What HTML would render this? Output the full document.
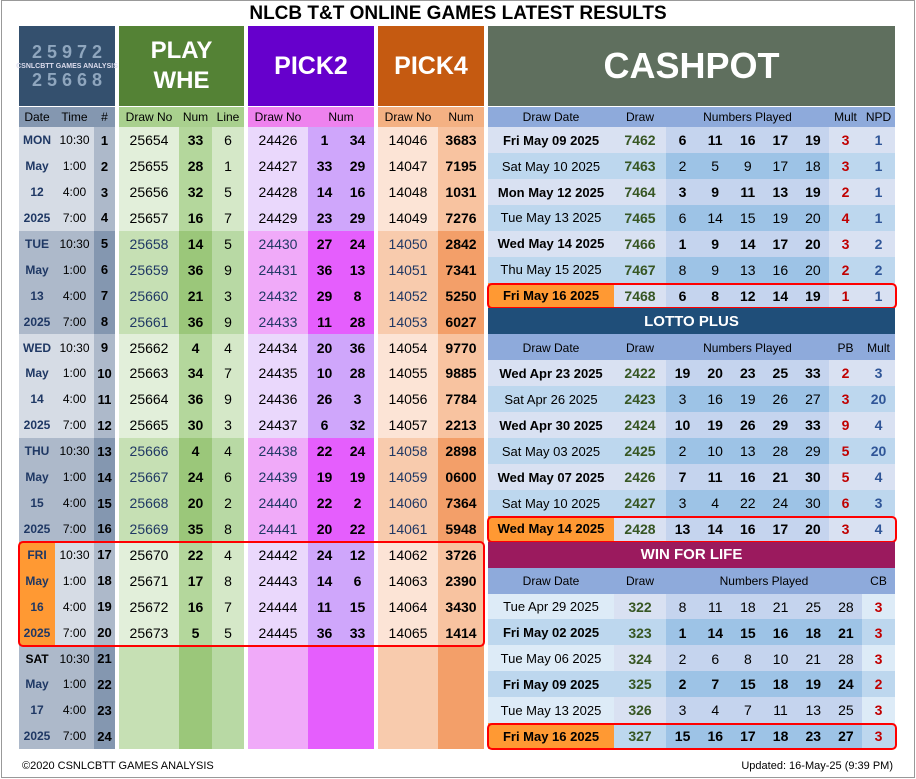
<!DOCTYPE html>
<html><head><meta charset="utf-8">
<style>
body{margin:0;background:#fff;}
#root{position:relative;width:916px;height:779px;overflow:hidden;font-family:"Liberation Sans",sans-serif;background:#fff;}
.c{position:absolute;display:flex;align-items:center;justify-content:center;box-sizing:border-box;white-space:nowrap;}
.hl{position:absolute;border:2px solid #f00;border-radius:5px;box-sizing:border-box;}
</style></head>
<body>
<div id="root">
<div style="position:absolute;left:1px;top:0;width:914px;height:778px;border:1px solid #999;box-sizing:border-box"></div>
<div class="c" style="left:0;top:2px;width:916px;height:24px;font-size:19px;font-weight:bold">NLCB T&amp;T ONLINE GAMES LATEST RESULTS</div>
<div class="c" style="left:19px;top:26px;width:96px;height:80px;background:#34506e;color:#dde;font-size:7px;font-weight:bold;flex-direction:column"><span style="font-size:18px;color:#8fa6be">2 5 9 7 2</span><span>CSNLCBTT GAMES ANALYSIS</span><span style="font-size:18px;color:#8fa6be">2 5 6 6 8</span></div>
<div class="c" style="left:119px;top:26px;width:125px;height:80px;background:#548235;color:#fff;font-size:24px;font-weight:bold;line-height:30px;text-align:center;flex-direction:column"><span>PLAY</span><span>WHE</span></div>
<div class="c" style="left:248px;top:26px;width:126px;height:80px;background:#6600cc;color:#fff;font-size:25px;font-weight:bold">PICK2</div>
<div class="c" style="left:378px;top:26px;width:106px;height:80px;background:#c55a11;color:#fff;font-size:25px;font-weight:bold">PICK4</div>
<div class="c" style="left:488px;top:26px;width:407px;height:80px;background:#5f6f5e;color:#fff;font-size:36px;font-weight:bold">CASHPOT</div>
<div class="c" style="left:22px;top:757px;height:18px;font-size:11px;justify-content:flex-start">©2020 CSNLCBTT GAMES ANALYSIS</div>
<div class="c" style="left:700px;top:757px;width:193px;height:18px;font-size:11px;justify-content:flex-end">Updated: 16-May-25 (9:39 PM)</div>
</div>
<script>
const dateLabels=[["MON","May","12","2025"],["TUE","May","13","2025"],["WED","May","14","2025"],["THU","May","15","2025"],["FRI","May","16","2025"],["SAT","May","17","2025"]];
const times=["10:30","1:00","4:00","7:00"];
const pwDraw=[25654,25655,25656,25657,25658,25659,25660,25661,25662,25663,25664,25665,25666,25667,25668,25669,25670,25671,25672,25673];
const pwNum=[33,28,32,16,14,36,21,36,4,34,36,30,4,24,20,35,22,17,16,5];
const pwLine=[6,1,5,7,5,9,3,9,4,7,9,3,4,6,2,8,4,8,7,5];
const p2Draw=[24426,24427,24428,24429,24430,24431,24432,24433,24434,24435,24436,24437,24438,24439,24440,24441,24442,24443,24444,24445];
const p2A=[1,33,14,23,27,36,29,11,20,10,26,6,22,19,22,20,24,14,11,36];
const p2B=[34,29,16,29,24,13,8,28,36,28,3,32,24,19,2,22,12,6,15,33];
const p4Draw=[14046,14047,14048,14049,14050,14051,14052,14053,14054,14055,14056,14057,14058,14059,14060,14061,14062,14063,14064,14065];
const p4Num=["3683","7195","1031","7276","2842","7341","5250","6027","9770","9885","7784","2213","2898","0600","7364","5948","3726","2390","3430","1414"];
const cpDates=["Fri May 09 2025","Sat May 10 2025","Mon May 12 2025","Tue May 13 2025","Wed May 14 2025","Thu May 15 2025","Fri May 16 2025"];
const cpDraw=[7462,7463,7464,7465,7466,7467,7468];
const cpNums=[[6,11,16,17,19],[2,5,9,17,18],[3,9,11,13,19],[6,14,15,19,20],[1,9,14,17,20],[8,9,13,16,20],[6,8,12,14,19]];
const cpMult=[3,3,2,4,3,2,1];
const cpNpd=[1,1,1,1,2,2,1];
const lpDates=["Wed Apr 23 2025","Sat Apr 26 2025","Wed Apr 30 2025","Sat May 03 2025","Wed May 07 2025","Sat May 10 2025","Wed May 14 2025"];
const lpDraw=[2422,2423,2424,2425,2426,2427,2428];
const lpNums=[[19,20,23,25,33],[3,16,19,26,27],[10,19,26,29,33],[2,10,13,28,29],[7,11,16,21,30],[3,4,22,24,30],[13,14,16,17,20]];
const lpPB=[2,3,9,5,5,6,3];
const lpMult=[3,20,4,20,4,3,4];
const wfDates=["Tue Apr 29 2025","Fri May 02 2025","Tue May 06 2025","Fri May 09 2025","Tue May 13 2025","Fri May 16 2025"];
const wfDraw=[322,323,324,325,326,327];
const wfNums=[[8,11,18,21,25,28],[1,14,15,16,18,21],[2,6,8,10,21,28],[2,7,15,18,19,24],[3,4,7,11,13,25],[15,16,17,18,23,27]];
const wfCB=[3,3,3,2,3,3];

const root=document.getElementById('root');
const RH=622/24, Y0=127;
function cell(x,y,w,h,bg,txt,css,name){
  const d=document.createElement('div');
  d.className='c';
  d.style.cssText=`left:${x}px;top:${y}px;width:${w}px;height:${h}px;background:${bg};`+(css||'');
  if(txt!==undefined&&txt!==null)d.textContent=txt;
  
  
  root.appendChild(d);return d;
}
const ry=i=>Y0+i*RH;
// left headers
cell(19,107,96,20,'#8497b0','','','left-header-bg');
cell(19,107,36,20,'transparent','Date','font-size:12px','date-header');
cell(55,107,39,20,'transparent','Time','font-size:12px','time-header');
cell(94,107,21,20,'transparent','#','font-size:12px','index-header');
cell(119,107,125,20,'#a9d08e','','','pw-header-bg');
cell(119,107,60,20,'transparent','Draw No','font-size:12px','pw-draw-header');
cell(179,107,33,20,'transparent','Num','font-size:12px','pw-num-header');
cell(212,107,32,20,'transparent','Line','font-size:12px','pw-line-header');
cell(248,107,126,20,'#ee82ee','','','p2-header-bg');
cell(248,107,60,20,'transparent','Draw No','font-size:12px','p2-draw-header');
cell(308,107,66,20,'transparent','Num','font-size:12px','p2-num-header');
cell(378,107,106,20,'#f4b183','','','p4-header-bg');
cell(378,107,60,20,'transparent','Draw No','font-size:12px','p4-draw-header');
cell(438,107,46,20,'transparent','Num','font-size:12px','p4-num-header');
// left rows
for(let i=0;i<24;i++){
  const g=Math.floor(i/4), dark=g%2===1, y=ry(i), h=RH+0.5;
  const fri=g===4;
  cell(19,y,36,h,fri?'#ff9933':(dark?'#adb9ca':'#d6dce5'),dateLabels[g][i%4],'font-size:12px;font-weight:bold;color:'+(g===5&&i%4===0?'#000':'#1f3864'),'date-label');
  cell(55,y,39,h,dark?'#adb9ca':'#d6dce5',times[i%4],'font-size:12px','time-cell');
  cell(94,y,21,h,dark?'#8497b0':'#adb9ca',String(i+1),'font-size:13px;font-weight:bold','index-cell');
  const has=i<20, tc=dark?'color:#203864;':'';
  cell(119,y,60,h,dark?'#c6e0b4':'#e2efda',has?pwDraw[i]:'','font-size:14px;'+tc,'pw-draw');
  cell(179,y,33,h,dark?'#9bc77a':'#b4d79c',has?pwNum[i]:'','font-size:14px;font-weight:bold','pw-num');
  cell(212,y,32,h,dark?'#b8d9a4':'#d5e8c8',has?pwLine[i]:'','font-size:14px','pw-line');
  cell(248,y,60,h,dark?'#f0aaf9':'#ead8fc',has?p2Draw[i]:'','font-size:14px;'+tc,'p2-draw');
  cell(308,y,33,h,dark?'#e55efd':'#cfa6fb',has?p2A[i]:'','font-size:14px;font-weight:bold','p2-num-a');
  cell(341,y,33,h,dark?'#e55efd':'#cfa6fb',has?p2B[i]:'','font-size:14px;font-weight:bold','p2-num-b');
  cell(378,y,60,h,dark?'#f8cbad':'#fce4d6',has?p4Draw[i]:'','font-size:14px;'+tc,'p4-draw');
  cell(438,y,46,h,dark?'#f39f69':'#f8c3a0',has?p4Num[i]:'','font-size:14px;font-weight:bold','p4-num');
}
// right panel
function hdr(y,h,cols){
  cell(488,y,407,h,'#8eaadb','','','header-row-bg');
  cols.forEach(c=>cell(c[0],y,c[1],h,'transparent',c[2],'font-size:12px','column-header'));
}
function rows(startRow,dates,draws,nums,c1,c2,ncols,wf){
  const nw=(ncols===6?196:163)/ncols;
  dates.forEach((d,i)=>{
    const y=ry(startRow+i), h=RH+0.5;
    const even=i%2===1, last=i===dates.length-1;
    const bold=wf?even:!even;
    const base=even?'#bdd7ee':(wf?'#ddebf7':'#d9e1f2');
    const numbg=even?'#9dc3e6':'#c5d4ee';
    cell(488,y,126,h,last?'#ff9933':base,d,'font-size:13px;'+(bold?'font-weight:bold;':''),'draw-date');
    cell(614,y,52,h,even?'#bdd7ee':'#d9e1f2',draws[i],'font-size:14px;font-weight:bold;color:#375623','draw-number');
    nums[i].forEach((n,k)=>cell(666+k*nw,y,nw+0.5,h,numbg,n,'font-size:14px;'+(bold?'font-weight:bold;':''),'ball-number'));
    if(ncols===5){
      cell(829,y,33,h,base,c1[i],'font-size:14px;font-weight:bold;color:#c00000','extra-a');
      cell(862,y,33,h,base,c2[i],'font-size:14px;font-weight:bold;color:#2f5597','extra-b');
    } else {
      cell(862,y,33,h,base,c1[i],'font-size:14px;font-weight:bold;color:#c00000','cb-number');
    }
  });
  const hl=document.createElement('div');hl.className='hl';
  hl.style.cssText=`left:487px;top:${ry(startRow+dates.length-1)}px;width:410px;height:${RH+1}px`;
  
  
  root.appendChild(hl);
}
hdr(107,20,[[488,126,'Draw Date'],[614,52,'Draw'],[666,163,'Numbers Played'],[829,33,'Mult'],[862,33,'NPD']]);
rows(0,cpDates,cpDraw,cpNums,cpMult,cpNpd,5,false);
cell(488,ry(7),407,RH+0.5,'#1f4e79','LOTTO PLUS','color:#fff;font-size:15px;font-weight:bold','lotto-plus-title');
hdr(ry(8),RH+0.5,[[488,126,'Draw Date'],[614,52,'Draw'],[666,163,'Numbers Played'],[829,33,'PB'],[862,33,'Mult']]);
rows(9,lpDates,lpDraw,lpNums,lpPB,lpMult,5,false);
cell(488,ry(16),407,RH+0.5,'#9b1a5e','WIN FOR LIFE','color:#fff;font-size:15px;font-weight:bold','win-for-life-title');
hdr(ry(17),RH+0.5,[[488,126,'Draw Date'],[614,52,'Draw'],[666,196,'Numbers Played'],[862,33,'CB']]);
rows(18,wfDates,wfDraw,wfNums,wfCB,null,6,true);
// left highlight
const lh=document.createElement('div');lh.className='hl';
lh.style.cssText=`left:18px;top:${ry(16)-1}px;width:467px;height:${RH*4+3}px`;


root.appendChild(lh);
</script>
</body></html>
